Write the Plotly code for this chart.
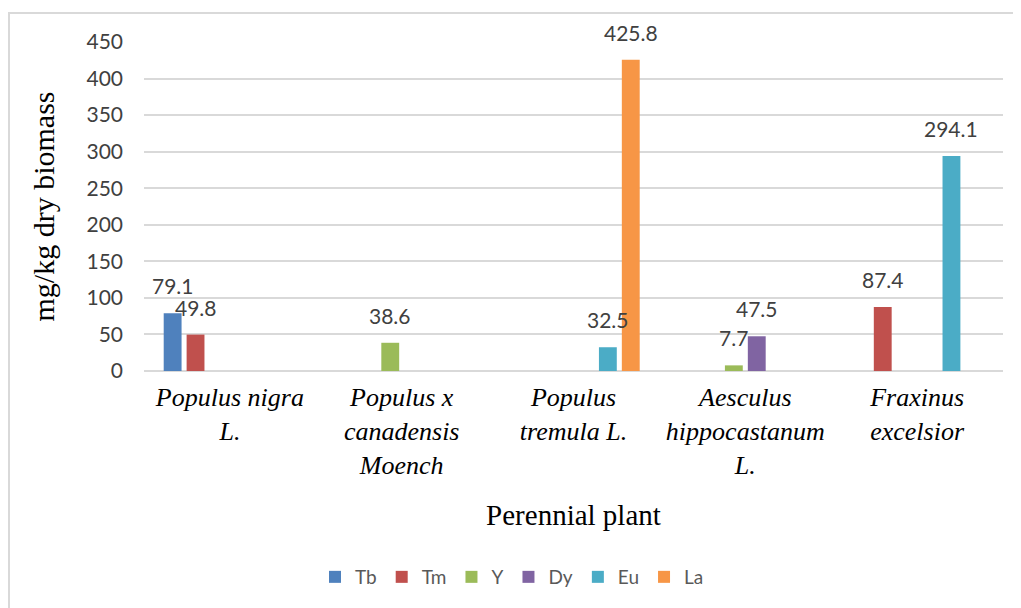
import plotly.graph_objects as go

categories = [
    "Populus nigra<br>L.",
    "Populus x<br>canadensis<br>Moench",
    "Populus<br>tremula L.",
    "Aesculus<br>hippocastanum<br>L.",
    "Fraxinus<br>excelsior",
]
series_names = ["Tb", "Tm", "Y", "Dy", "Eu", "La"]
tb = [79.1, None, None, None, None]
tm = [49.8, None, None, None, 87.4]
y_ = [None, 38.6, None, 7.7, None]
dy = [None, None, None, 47.5, None]
eu = [None, None, 32.5, None, 294.1]
la = [None, None, 425.8, None, None]
series_values = [tb, tm, y_, dy, eu, la]
colors = ["#4F81BD", "#C0504D", "#9BBB59", "#8064A2", "#4BACC6", "#F79646"]

y_ticks = [0, 50, 100, 150, 200, 250, 300, 350, 400, 450]

# page body adds an 8px offset; compensate
OFF = 8
W, H = 1021 - OFF, 608 - OFF
ML, MR, MT, MB = 144 - OFF, 18, 42 - OFF, 237
PW = W - ML - MR
PH = H - MT - MB

BARGAP = 0.2
GROUPGAP = 0.22

fig = go.Figure()
for name, vals, col in zip(series_names, series_values, colors):
    fig.add_trace(go.Bar(
        name=name, x=categories, y=vals, marker=dict(color=col, line=dict(width=0)),
        hoverinfo="name+y",
    ))

# data labels above bars
n = len(series_names)
slot = (1 - BARGAP) / n
annotations = []
for i, vals in enumerate(series_values):
    off = -(1 - BARGAP) / 2 + slot * (i + 0.5)
    for j, v in enumerate(vals):
        if v is None:
            continue
        annotations.append(dict(
            x=j + off, y=v, xref="x", yref="y", text=f"{v:.1f}",
            showarrow=False, yanchor="bottom", yshift=13,
            font=dict(family="Lato", size=21, color="#404040"),
        ))

# chart border (light grey) in page coordinates -> paper
def px_to_paper_x(px):
    return (px - OFF - ML) / PW

def py_to_paper_y(py):
    return (H - MB - (py - OFF)) / PH

fig.update_layout(
    width=W, height=H,
    margin=dict(l=ML, r=MR, t=MT, b=MB),
    paper_bgcolor="white", plot_bgcolor="white",
    barmode="group", bargap=BARGAP, bargroupgap=GROUPGAP,
    annotations=annotations,
    shapes=[dict(type="rect", xref="paper", yref="paper",
                 x0=px_to_paper_x(9), x1=px_to_paper_x(1030),
                 y0=py_to_paper_y(620), y1=py_to_paper_y(13),
                 line=dict(color="#D9D9D9", width=2), layer="below")],
    legend=dict(orientation="h", x=px_to_paper_x(512), xanchor="center",
                y=py_to_paper_y(577), yanchor="middle",
                font=dict(family="Lato", size=19, color="#595959"),
                itemwidth=30, traceorder="normal"),
    xaxis=dict(
        tickfont=dict(family="Liberation Serif", size=26, color="#000000", style="italic"),
        showgrid=False, showline=False, zeroline=False,
        ticks="", ticklabelstandoff=8,
        title=dict(text="Perennial plant",
                   font=dict(family="Liberation Serif", size=29, color="#000000"),
                   standoff=26),
    ),
    yaxis=dict(
        range=[0, 450], tickvals=y_ticks, ticktext=[str(t) for t in y_ticks],
        showgrid=True, gridcolor="#D9D9D9", gridwidth=1.5,
        zeroline=True, zerolinecolor="#D9D9D9", zerolinewidth=1.5,
        showline=False, ticks="", ticklabelstandoff=20,
        tickfont=dict(family="Lato", size=21, color="#404040"),
        title=dict(text="mg/kg dry biomass",
                   font=dict(family="Liberation Serif", size=30, color="#000000"),
                   standoff=22),
    ),
)

fig.write_html("out.html")
